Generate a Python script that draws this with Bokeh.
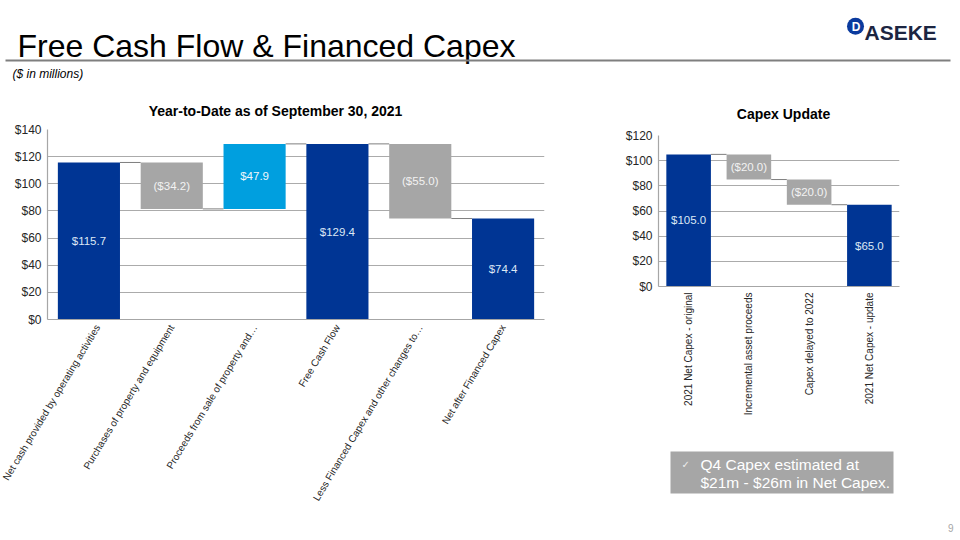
import math
from bokeh.plotting import figure
from bokeh.layouts import row, column
from bokeh.models import Range1d, FixedTicker, NumeralTickFormatter
from bokeh.core.properties import value
from bokeh.embed import file_html
from bokeh.resources import INLINE

FONT = "Liberation Sans"

# ---------------- data ----------------
ytd_categories = [
    "Net cash provided by operating activities",
    "Purchases of property and equipment",
    "Proceeds from sale of property and\u2026",
    "Free Cash Flow",
    "Less Financed Capex and other changes to\u2026",
    "Net after Financed Capex",
]
ytd_values = [115.7, -34.2, 47.9, 129.4, -55.0, 74.4]
ytd_kinds = ["total", "decrease", "increase", "total", "decrease", "total"]
ytd_labels = ["$115.7", "($34.2)", "$47.9", "$129.4", "($55.0)", "$74.4"]
ytd_ticks = [0, 20, 40, 60, 80, 100, 120, 140]

capex_categories = [
    "2021 Net Capex - original",
    "Incremental asset proceeds",
    "Capex delayed to 2022",
    "2021 Net Capex - update",
]
capex_values = [105.0, -20.0, -20.0, 65.0]
capex_kinds = ["total", "decrease", "decrease", "total"]
capex_labels = ["$105.0", "($20.0)", "($20.0)", "$65.0"]
capex_ticks = [0, 20, 40, 60, 80, 100, 120]

KIND_COLORS = {"total": "#003594", "decrease": "#A6A6A6", "increase": "#009FDF"}
KIND_TEXT = {"total": "#DCE8F5", "decrease": "#F2F2F2", "increase": "#F2F7FB"}


def waterfall(values, kinds):
    bottoms, tops, levels = [], [], []
    running = 0.0
    for v, k in zip(values, kinds):
        if k == "total":
            b, t = 0.0, v
            running = v
        else:
            start = running
            running = running + v
            b, t = min(start, running), max(start, running)
        bottoms.append(b)
        tops.append(t)
        levels.append(running)
    return bottoms, tops, levels


def make_chart(cats, vals, kinds, labels, ticks, width, height,
               bl, br, bt, bb, angle, bar_w, ytick_size):
    n = len(cats)
    xs = list(range(n))
    bottoms, tops, levels = waterfall(vals, kinds)
    p = figure(width=width, height=height,
               x_range=Range1d(-0.5, n - 0.5),
               y_range=Range1d(ticks[0], ticks[-1]),
               output_backend="svg", toolbar_location=None,
               min_border_left=bl, min_border_right=br,
               min_border_top=bt, min_border_bottom=bb)
    p.outline_line_color = None
    p.background_fill_color = "white"
    p.border_fill_color = "white"

    # connectors
    p.segment(x0=[i + bar_w / 2 for i in xs[:-1]], y0=levels[:-1],
              x1=[i + 1 - bar_w / 2 for i in xs[:-1]], y1=levels[:-1],
              line_color="#7F7F7F", line_width=1)

    p.vbar(x=xs, bottom=bottoms, top=tops, width=bar_w,
           fill_color=[KIND_COLORS[k] for k in kinds], line_color=None)

    mids = [(b + t) / 2 for b, t in zip(bottoms, tops)]
    p.text(x=xs, y=mids, text=labels, text_align="center",
           text_baseline="middle", text_font=value(FONT),
           text_font_size="11.5px",
           text_color=[KIND_TEXT[k] for k in kinds])

    p.xgrid.visible = False
    p.ygrid.ticker = FixedTicker(ticks=ticks)
    p.ygrid.grid_line_color = "#ABABAB"
    p.ygrid.grid_line_width = 1.2

    p.xaxis.ticker = FixedTicker(ticks=xs)
    p.xaxis.major_label_overrides = {i: c for i, c in enumerate(cats)}
    p.xaxis.major_label_orientation = angle
    p.xaxis.major_label_text_font_size = "10px"
    p.yaxis.ticker = FixedTicker(ticks=ticks)
    p.yaxis.formatter = NumeralTickFormatter(format="$0")
    p.yaxis.major_label_text_font_size = ytick_size

    for ax in (p.xaxis[0], p.yaxis[0]):
        ax.major_tick_line_color = None
        ax.minor_tick_line_color = None
        ax.major_tick_out = 0
        ax.major_tick_in = 0
        ax.minor_tick_out = 0
        ax.major_label_standoff = 6
        ax.axis_line_color = "#A6A6A6"
        ax.axis_line_width = 1.2
        ax.major_label_text_font = FONT
        ax.major_label_text_color = "#262626"
    return p


def blank(width, height, x0, x1):
    f = figure(width=width, height=height, x_range=Range1d(x0, x1),
               y_range=Range1d(height, 0), output_backend="svg",
               toolbar_location=None, x_axis_location=None,
               y_axis_location=None, min_border=0)
    f.outline_line_color = None
    f.grid.visible = False
    return f


# ---------------- header ----------------
HEAD_H = 122
header = blank(960, HEAD_H, 0, 960)
header.text(x=[17], y=[45], text=["Free Cash Flow & Financed Capex"],
            text_font=value(FONT), text_font_size="32px",
            text_color="#000000", text_baseline="alphabetic")
header.segment(x0=[5], y0=[60], x1=[950], y1=[60],
               line_color="#7F7F7F", line_width=2)
header.text(x=[12], y=[73], text=["($ in millions)"],
            text_font=value(FONT), text_font_size="12px",
            text_font_style="italic", text_color="#000000",
            text_baseline="middle")
# logo
header.scatter(x=[855], y=[25.7], size=17, marker="circle",
               fill_color="#0A3A9E", line_color=None)
header.text(x=[855.5], y=[26], text=["D"], text_font=value(FONT),
            text_font_size="12px", text_font_style="bold",
            text_color="white", text_align="center",
            text_baseline="middle")
header.text(x=[864], y=[32], text=["ASEKE"], text_font=value(FONT),
            text_font_size="21px", text_font_style="bold",
            text_color="#1C2541", text_baseline="alphabetic")
# chart titles
header.text(x=[275], y=[110], text=["Year-to-Date as of September 30, 2021"],
            text_font=value(FONT), text_font_size="14px",
            text_font_style="bold", text_color="#000000",
            text_align="center", text_baseline="middle")
header.text(x=[783], y=[113], text=["Capex Update"],
            text_font=value(FONT), text_font_size="14px",
            text_font_style="bold", text_color="#000000",
            text_align="center", text_baseline="middle")

# ---------------- charts ----------------
left = make_chart(ytd_categories, ytd_values, ytd_kinds, ytd_labels,
                  ytd_ticks, 600, 540 - HEAD_H, 47, 56, 129 - HEAD_H,
                  540 - 319, 1.03, 0.75, "12px")

RIGHT_H = 298
right = make_chart(capex_categories, capex_values, capex_kinds, capex_labels,
                   capex_ticks, 360, RIGHT_H, 58, 61, 135 - HEAD_H,
                   HEAD_H + RIGHT_H - 286, math.pi / 2, 0.74, "12px")

# ---------------- callout + page number ----------------
CALL_H = 540 - HEAD_H - RIGHT_H
callout = blank(330, CALL_H, 0, 330)
callout.quad(left=[70], right=[293], top=[31], bottom=[73],
             fill_color="#A6A6A6", line_color=None)
callout.text(x=[81], y=[44], text=["\u2713"], text_font=value("DejaVu Sans"),
             text_font_size="10px", text_color="#EDEDED",
             text_baseline="middle")
callout.text(x=[100, 100], y=[44, 62],
             text=["Q4 Capex estimated at", "$21m - $26m in Net Capex."],
             text_font=value(FONT), text_font_size="15.5px",
             text_color="#FFFFFF", text_baseline="middle")

pagenum = blank(30, CALL_H, 330, 360)
pagenum.text(x=[353], y=[107], text=["9"], text_font=value(FONT),
             text_font_size="10px", text_color="#A6A6A6",
             text_align="right", text_baseline="middle")

layout = column(header,
                row(left, column(right, row(callout, pagenum, spacing=0),
                                 spacing=0), spacing=0),
                spacing=0)

open("out.html", "w").write(file_html(layout, INLINE))
